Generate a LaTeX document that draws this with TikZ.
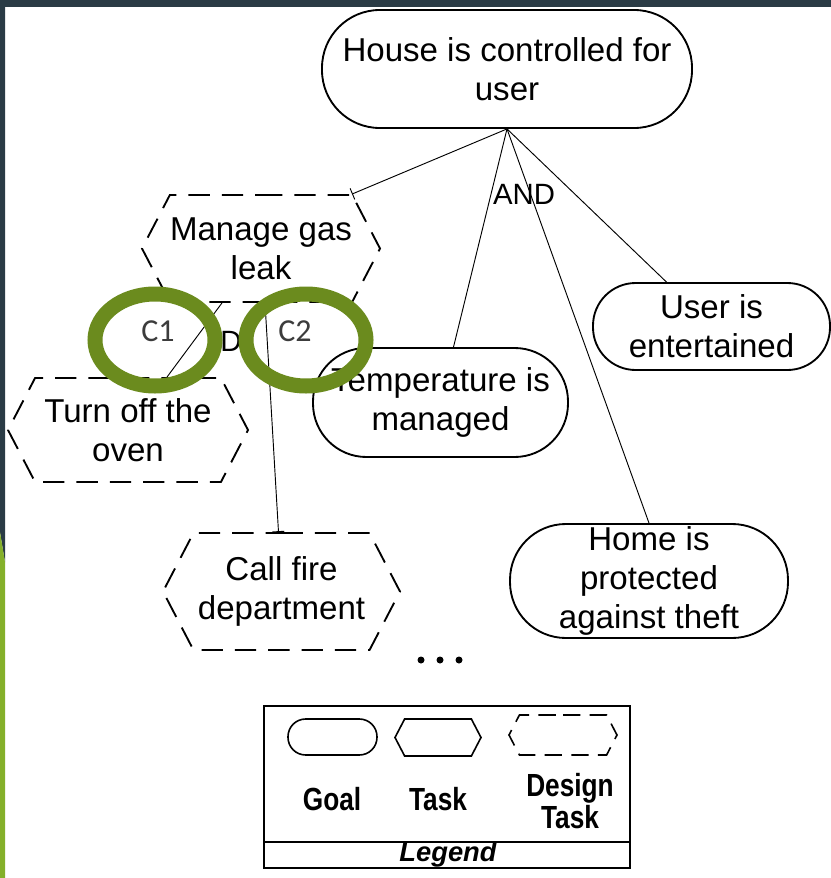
\documentclass[tikz,border=0pt]{standalone}
\usepackage{fontspec}
\setmainfont{Liberation Sans}
\newfontfamily\labelfont{Carlito}
\newfontfamily\narrowfont[FakeStretch=0.82]{Liberation Sans}
\usetikzlibrary{shapes.symbols,arrows.meta,calc}

\definecolor{framedark}{RGB}{42,59,69}
\definecolor{stripgreen}{RGB}{132,176,42}
\definecolor{ringgreen}{RGB}{107,139,30}
\definecolor{tagtext}{RGB}{60,60,60}

\begin{document}
\begin{tikzpicture}[x=0.75pt,y=-0.75pt,
  bodytext/.style={font=\fontsize{24.8}{29.5}\selectfont},
  goal/.style 2 args={draw, line width=1.4pt, rectangle,
    rounded corners=#2*0.75pt*0.49,
    minimum width=#1*0.75pt, minimum height=#2*0.75pt,
    inner sep=0pt, align=center, bodytext},
  hexa/.style 2 args={draw, line width=1.4pt, signal, signal to=west and east,
    signal pointer angle=125,
    minimum width=#1*0.75pt, minimum height=#2*0.75pt,
    inner sep=0pt, align=center, bodytext},
  dhexa/.style 2 args={hexa={#1}{#2}, dash pattern=on 16pt off 9pt},
  link/.style={line width=0.7pt},
  barlink/.style={link, -{Bar[width=9pt,line width=0.7pt]}},
  tag/.style={font=\labelfont\fontsize{24}{28}\selectfont, text=tagtext},
  ring/.style={draw=ringgreen, line width=11.25pt},
  legendtext/.style={font=\narrowfont\bfseries\fontsize{24}{21}\selectfont, align=center}
]
% page and frame
\useasboundingbox (0,0) rectangle (831,878);
\fill[white] (0,0) rectangle (831,878);
\fill[framedark] (0,0) rectangle (831,7);
\fill[framedark] (0,0) -- (5,0) -- (5,562) -- (0,532) -- cycle;
\fill[stripgreen] (0,532) -- (5,562) -- (5,878) -- (0,878) -- cycle;

% goals
\node[goal={370}{118}] (house) at (507,69) {House is controlled for\\user};
\node[goal={255}{109}] (temp) at (440.5,402.5) {Temperature is\\managed};
\node[goal={237}{87}] (user) at (711.5,326.5) {User is\\entertained};
\node[goal={278}{114}] (home) at (649,581) {Home is\\protected\\against theft};

% design tasks
\node[dhexa={238}{107}] (gas) at (261,248.5) {Manage gas\\leak};
\node[dhexa={240}{104}] (oven) at (128,430) {Turn off the\\oven};
\node[dhexa={237}{117}] (fire) at (281.5,591.5) {Call fire\\department};

% decomposition links
\draw[barlink] (house.south) -- ($(gas.north)+(91,0)$);
\draw[link] (house.south) -- ($(temp.north)+(13,0)$);
\draw[link] (house.south) -- (home.north);
\draw[link] (house.south) -- ($(user.north)+(-45,0)$);
\draw[link] ($(gas.south)+(-39,0)$) -- ($(oven.north)+(39,0)$);
\draw[barlink] ($(gas.south)+(4,0)$) -- ($(fire.north)+(-3,0)$);

\node[font=\fontsize{22}{26}\selectfont] (andtop) at (524,194) {AND};
\node[font=\fontsize{22}{26}\selectfont] (andlow) at (231,341) {D};

% more elements
\fill (421,660) circle [radius=3.5];
\fill (440,660) circle [radius=3.5];
\fill (459,660) circle [radius=3.5];

% legend
\node[draw, line width=1pt, minimum width=366*0.75pt, minimum height=162*0.75pt, inner sep=0pt] (legend) at (447,787) {};
\draw[line width=1pt] (legend.west |- 0,842) -- (legend.east |- 0,842);
\node[font=\bfseries\itshape\fontsize{20.5}{24}\selectfont] (legendtitle) at (448,854) {Legend};
\node[goal={89}{36}, line width=1.2pt] (lgoal) at (332.5,737) {};
\node[hexa={86}{37}, line width=1.2pt] (ltask) at (438,737.5) {};
\node[dhexa={108}{40}, line width=1.2pt, dash pattern=on 13pt off 7pt] (ldtask) at (563,735) {};
\node[legendtext] (lgoaltxt) at (332,799) {Goal};
\node[legendtext] (ltasktxt) at (438,799) {Task};
\node[legendtext] (ldtasktxt) at (570,801) {Design\\Task};

% highlighted contribution tags
\node[tag] (c1) at (158,331) {C1};
\node[tag] (c2) at (295,331) {C2};
\draw[ring] (155,340) ellipse [x radius=60, y radius=46];
\draw[ring] (306,340) ellipse [x radius=60, y radius=46];
\end{tikzpicture}
\end{document}
